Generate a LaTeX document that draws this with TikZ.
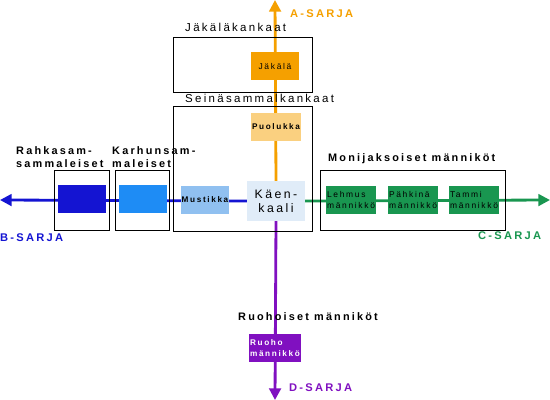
\documentclass[tikz,border=0pt]{standalone}
\usepackage{fontspec}
\setmainfont{Liberation Sans}[LetterSpace=20]
\usetikzlibrary{arrows.meta,backgrounds}

\definecolor{asarja}{HTML}{F5A000}
\definecolor{puol}{HTML}{FAD080}
\definecolor{kaen}{HTML}{E0ECF8}
\definecolor{must}{HTML}{90C0F0}
\definecolor{bsarja}{HTML}{1414D2}
\definecolor{karh}{HTML}{1E8CF5}
\definecolor{csarja}{HTML}{199650}
\definecolor{dsarja}{HTML}{8010C0}

\begin{document}
\begin{tikzpicture}[x=0.03cm,y=-0.03cm,
  group/.style={draw,line width=0.6pt,inner sep=0pt},
  grouplbl/.style={anchor=base west,inner sep=0pt,font=\fontsize{9.8}{11}\selectfont},
  seriesbox/.style={minimum width=1.44cm,minimum height=0.84cm,inner sep=1pt,font=\fontsize{7.2}{9.5}\selectfont},
  serieslbl/.style={anchor=base west,inner sep=0pt,font=\bfseries\fontsize{9.5}{11}\selectfont},
  axis/.style={line width=2.4pt,-{Triangle[length=10pt,width=10pt]}}]
\useasboundingbox (0,0) rectangle (550,400);
% kasvupaikkaryhmat
\node[group,minimum width=4.17cm,minimum height=1.65cm] (gJak) at (242.5,64.5) {};
\node[grouplbl] at (185,32) {Jäkäläkankaat};
\node[group,minimum width=4.17cm,minimum height=3.75cm] (gSei) at (242.5,168.5) {};
\node[grouplbl] at (185,103) {Seinäsammalkankaat};
\node[group,minimum width=1.65cm,minimum height=1.8cm] (gRah) at (81.5,200) {};
\node[grouplbl,font=\bfseries\fontsize{9.3}{11.3}\selectfont,anchor=south west,align=left] at (16,168) {Rahkasam-\\sammaleiset};
\node[group,minimum width=1.62cm,minimum height=1.8cm] (gKar) at (142,200) {};
\node[grouplbl,font=\bfseries\fontsize{9.3}{11.3}\selectfont,anchor=south west,align=left] at (112,168) {Karhunsam-\\maleiset};
\node[group,minimum width=5.55cm,minimum height=1.8cm] (gMon) at (412.5,200) {};
\node[grouplbl,font=\bfseries\fontsize{9.3}{11}\selectfont] at (328,162) {Monijaksoiset männiköt};
\node[grouplbl,font=\bfseries\fontsize{9.3}{11}\selectfont] at (238,321) {Ruohoiset männiköt};
% tyypit
\node[seriesbox,fill=kaen,minimum width=1.74cm,minimum height=1.2cm,font=\fontsize{10.5}{12}\selectfont,align=center] (kk) at (276,201) {Käen-\\kaali};
\node[seriesbox,fill=asarja] (jak) at (275,66.5) {Jäkälä};
\node[seriesbox,fill=puol,font=\bfseries\fontsize{7}{9}\selectfont] (puo) at (276,127) {Puolukka};
\node[seriesbox,fill=must,font=\bfseries\fontsize{7}{9}\selectfont] (mus) at (205,200) {Mustikka};
\node[seriesbox,fill=karh] (kar) at (143,199.5) {};
\node[seriesbox,fill=bsarja] (rah) at (82,199.5) {};
\node[seriesbox,fill=csarja,align=left] (leh) at (351,200) {Lehmus\\männikkö};
\node[seriesbox,fill=csarja,align=left] (pah) at (413,200) {Pähkinä\\männikkö};
\node[seriesbox,fill=csarja,align=left] (tam) at (474,200) {Tammi\\männikkö};
\node[seriesbox,fill=dsarja,text=white,align=left,font=\bfseries\fontsize{7}{9.5}\selectfont] (ruo) at (275,348.5) {Ruoho\\männikkö};
% sarjat
\coordinate (aEnd) at (275,0);
\coordinate (bEnd) at (0,200);
\coordinate (cEnd) at (550,200);
\coordinate (dEnd) at (275,400);
\node[serieslbl,text=asarja] at (290,18) {A-SARJA};
\node[serieslbl,text=bsarja] at (0,242) {B-SARJA};
\node[serieslbl,text=csarja] at (478,240) {C-SARJA};
\node[serieslbl,text=dsarja] at (289,392) {D-SARJA};
\begin{scope}[on background layer]
\draw[axis,asarja] (kk.north) -- (aEnd);
\draw[axis,bsarja] (kk.west) -- (bEnd);
\draw[axis,csarja] (kk.east) -- (cEnd);
\draw[axis,dsarja] (kk.south) -- (dEnd);
\end{scope}
\end{tikzpicture}
\end{document}
